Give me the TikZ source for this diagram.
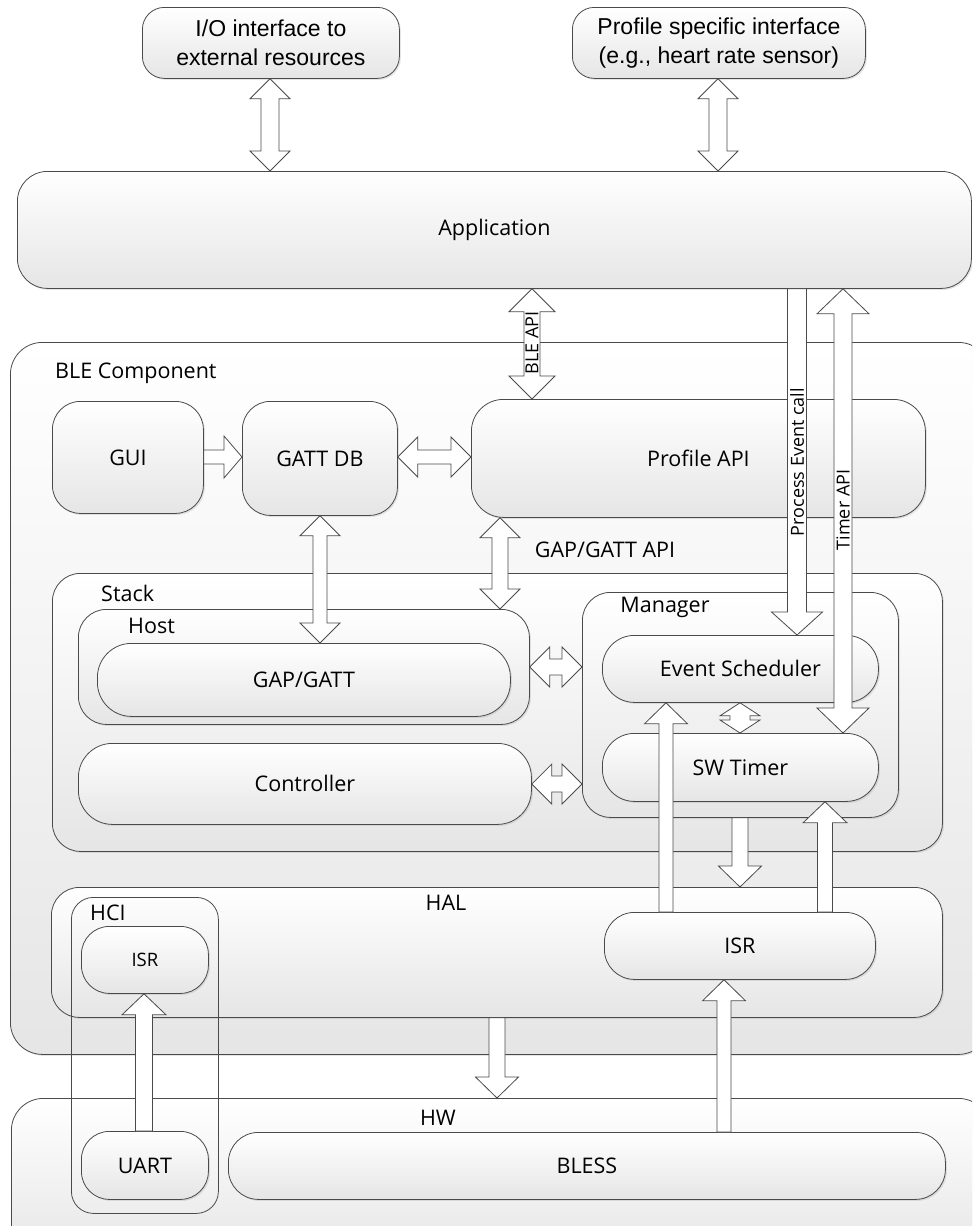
\documentclass[tikz,border=0pt]{standalone}
\usepackage{fontspec}
\setmainfont{Open Sans}
\newfontfamily\arialf{Liberation Sans}
\usetikzlibrary{calc,shadows}
\definecolor{linec}{HTML}{4A4A4A}
\newcommand\myfs{\fontsize{21.5}{29}\selectfont}
\newcommand\mytop{\arialf\fontsize{23}{29.5}\selectfont}
\newcommand\mysm{\fontsize{18.5}{20}\selectfont}
\newcommand\myrot{\fontsize{18}{20}\selectfont}
\tikzset{
  box/.style={draw=linec, line width=0.8pt, top color=white, bottom color=black!10,
    drop shadow={shadow xshift=1.5pt, shadow yshift=-1.5pt, opacity=0.2},
    anchor=north west, inner sep=0pt, font=\myfs, align=center},
  frame/.style={draw=linec, line width=0.8pt, anchor=north west, inner sep=0pt},
  blk/.style={draw=linec, line width=0.8pt, fill=white, line join=miter},
  lbl/.style={inner sep=0pt, font=\myfs},
}
% box: name, x1, y1, x2, y2, radius, text
\newcommand\bx[8][box]{\node[#1, rounded corners=#7pt, minimum width={(#5-#3)*1pt}, minimum height={(#6-#4)*1pt}] (#2) at (#3,#4) {#8};}
% vertical single arrow: shaft half width, head half width, head length, x, from, to
\newcommand\VS[6]{\path[blk] let \p1=(#4,0 |- #5), \p2=(#4,0 |- #6), \n1={sign(\y2-\y1)*#3} in
  ({\x1-#1},\y1) -- ({\x1-#1},{\y2-\n1}) -- ({\x1-#2},{\y2-\n1}) -- (\x1,\y2) -- ({\x1+#2},{\y2-\n1}) -- ({\x1+#1},{\y2-\n1}) -- ({\x1+#1},\y1) -- cycle;}
\newcommand\VD[6]{\path[blk] let \p1=(#4,0 |- #5), \p2=(#4,0 |- #6), \n1={sign(\y2-\y1)*#3} in
  (\x1,\y1) -- ({\x1+#2},{\y1+\n1}) -- ({\x1+#1},{\y1+\n1}) -- ({\x1+#1},{\y2-\n1}) -- ({\x1+#2},{\y2-\n1}) -- (\x1,\y2) -- ({\x1-#2},{\y2-\n1}) -- ({\x1-#1},{\y2-\n1}) -- ({\x1-#1},{\y1+\n1}) -- ({\x1-#2},{\y1+\n1}) -- cycle;}
\newcommand\HS[6]{\path[blk] let \p1=(#5 |- 0,#4), \p2=(#6 |- 0,#4), \n1={sign(\x2-\x1)*#3} in
  (\x1,{\y1+#1}) -- ({\x2-\n1},{\y1+#1}) -- ({\x2-\n1},{\y1+#2}) -- (\x2,\y1) -- ({\x2-\n1},{\y1-#2}) -- ({\x2-\n1},{\y1-#1}) -- (\x1,{\y1-#1}) -- cycle;}
\newcommand\HD[6]{\path[blk] let \p1=(#5 |- 0,#4), \p2=(#6 |- 0,#4), \n1={sign(\x2-\x1)*#3} in
  (\x1,\y1) -- ({\x1+\n1},{\y1+#2}) -- ({\x1+\n1},{\y1+#1}) -- ({\x2-\n1},{\y1+#1}) -- ({\x2-\n1},{\y1+#2}) -- (\x2,\y1) -- ({\x2-\n1},{\y1-#2}) -- ({\x2-\n1},{\y1-#1}) -- ({\x1+\n1},{\y1-#1}) -- ({\x1+\n1},{\y1-#2}) -- cycle;}
\begin{document}
\begin{tikzpicture}[x=1pt,y=-1pt]
\useasboundingbox (0,0) rectangle (972,1226);
\fill[white] (0,0) rectangle (972,1226);
\clip (0,0) rectangle (972,1226);
% top
\bx{io}{142}{7}{399}{78}{22}{\mytop I/O interface to\\\mytop external resources}
\bx{prof}{572}{7}{865}{78}{22}{\mytop Profile specific interface\\\mytop (e.g., heart rate sensor)}
\bx{app}{17}{171}{971}{288}{30}{Application}
% BLE component
\bx{ble}{10}{342}{990}{1054}{32}{}
\node[lbl, anchor=west] (blel) at (55,373) {BLE Component};
\bx{gui}{52}{401}{203}{513}{28}{GUI}
\bx{gattdb}{242}{401}{397}{515}{28}{GATT DB}
\bx{papi}{471}{399}{925}{517}{32}{Profile API}
% stack
\bx{stack}{52}{573}{942}{851}{28}{}
\node[lbl, anchor=west] (stackl) at (101,593) {Stack};
\bx{host}{78}{609}{529}{724}{28}{}
\node[lbl, anchor=west] (hostl) at (128,626) {Host};
\bx{gap}{97}{643}{510}{716}{34}{GAP/GATT}
\bx{ctrl}{78}{743}{531}{824}{34}{Controller}
\bx{mgr}{582}{592}{898}{817}{28}{}
\node[lbl] (mgrl) at (665,607) {Manager};
\bx{evs}{602}{635}{878}{702}{32}{Event Scheduler}
\bx{swt}{602}{733}{878}{801}{32}{SW Timer}
% HAL
\bx{hal}{51}{887}{942}{1017}{28}{}
\node[lbl] (hall) at (446,903) {HAL};
\bx{hisr}{81}{926}{208}{993}{28}{\mysm ISR}
\bx{isr}{604}{912}{875}{979}{30}{ISR}
% HW
\bx{hw}{11}{1098}{990}{1260}{32}{}
\node[lbl] (hwl) at (438,1118) {HW};
\bx{uart}{81}{1131}{208}{1199}{28}{UART}
\bx{bless}{228}{1132}{945}{1199}{30}{BLESS}
% HCI frame
\node[frame, rounded corners=22pt, minimum width=147pt, minimum height=316pt] (hci) at (71,897) {};
\node[lbl, anchor=west] (hcil) at (90,913) {HCI};
% arrows
\VD{9}{20}{20}{270}{io.south}{app.north}
\VD{9}{20}{20}{718}{prof.south}{app.north}
\VD{8}{23}{23}{532}{app.south}{papi.north}
\node[lbl, rotate=90, font=\myrot] (bleapi) at (532,343) {BLE API};
\HS{7}{21}{18}{457}{gui.east}{gattdb.west}
\HD{7}{20}{20}{457}{gattdb.east}{papi.west}
\VD{7}{20}{20}{320}{gattdb.south}{gap.north}
\VD{8}{20}{20}{500}{papi.south}{host.north}
\node[lbl] (gapapi) at (605,550) {GAP/GATT API};
\HD{8}{20}{20}{667}{host.east}{mgr.west}
\HD{8}{20}{20}{784}{ctrl.east}{mgr.west}
\VD{10}{20}{13}{740}{evs.south}{swt.north}
\VS{9.5}{25.5}{23}{797}{app.south}{evs.north}
\node[lbl, rotate=90, font=\myrot] (pec) at (797,462) {Process Event call};
\VD{9}{26}{25}{843}{app.south}{swt.north}
\node[lbl, rotate=90, font=\myrot] (tapi) at (843,510) {Timer API};
\VS{7}{21.5}{21}{666}{isr.north}{evs.south}
\VS{7.5}{22}{21}{825}{isr.north}{swt.south}
\VS{8}{21.5}{21}{740}{mgr.south}{hal.north}
\VS{8.5}{22}{21}{144}{uart.north}{hisr.south}
\VS{8}{21.5}{21}{497}{hal.south}{hw.north}
\VS{7}{21.5}{21}{724}{bless.north}{isr.south}
\end{tikzpicture}
\end{document}
